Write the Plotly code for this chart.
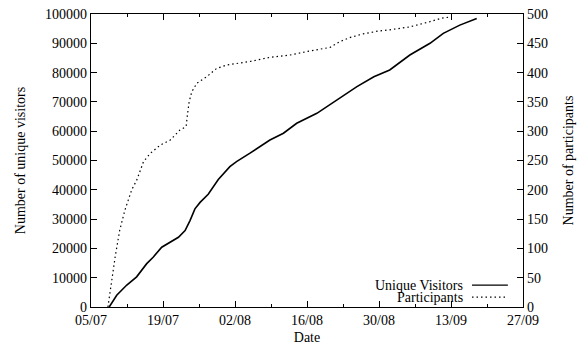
import plotly.graph_objects as go

visitor_dates = ["2010-07-08 13:00", "2010-07-10 00:00", "2010-07-11 23:00", "2010-07-13 21:00",
                 "2010-07-15 20:00", "2010-07-17 02:00", "2010-07-18 18:00", "2010-07-20 10:00",
                 "2010-07-22 00:00", "2010-07-23 07:00", "2010-07-24 06:00", "2010-07-25 05:00",
                 "2010-07-26 05:00", "2010-07-27 19:00", "2010-07-29 18:00", "2010-08-01 00:00",
                 "2010-08-02 07:00", "2010-08-04 22:00", "2010-08-08 19:00", "2010-08-11 10:00",
                 "2010-08-14 00:00", "2010-08-17 22:00", "2010-08-21 19:00", "2010-08-25 17:00",
                 "2010-08-29 00:00", "2010-09-01 02:00", "2010-09-05 00:00", "2010-09-08 22:00",
                 "2010-09-11 12:00", "2010-09-14 17:00", "2010-09-18 00:00"]
visitors = [0, 4000, 7500, 10300, 14800, 17000, 20400, 22100, 23800, 26100, 29500, 33500,
            35700, 38500, 43500, 47900, 49600, 52500, 57000, 59300, 62700, 66100, 70600,
            75200, 78600, 80900, 86000, 90000, 93400, 96200, 98500]

participant_dates = ["2010-07-08 07:00", "2010-07-09 00:00", "2010-07-09 17:00", "2010-07-10 14:00",
                     "2010-07-11 14:00", "2010-07-12 22:00", "2010-07-13 22:00", "2010-07-15 05:00",
                     "2010-07-16 12:00", "2010-07-18 10:00", "2010-07-20 10:00", "2010-07-22 07:00",
                     "2010-07-23 12:00", "2010-07-23 17:00", "2010-07-24 02:00", "2010-07-24 14:00",
                     "2010-07-25 14:00", "2010-07-27 12:00", "2010-07-29 10:00", "2010-07-31 10:00",
                     "2010-08-02 14:00", "2010-08-04 22:00", "2010-08-08 19:00", "2010-08-12 17:00",
                     "2010-08-16 14:00", "2010-08-20 12:00", "2010-08-22 10:00", "2010-08-24 10:00",
                     "2010-08-26 22:00", "2010-08-29 22:00", "2010-09-01 02:00", "2010-09-05 00:00",
                     "2010-09-08 22:00", "2010-09-11 05:00", "2010-09-13 02:00"]
participants = [0, 46, 86, 131, 165, 200, 217, 248, 262, 276, 285, 302, 308, 325, 350, 367,
                382, 393, 407, 413, 416, 419, 426, 430, 437, 443, 453, 460, 466, 471, 473,
                478, 487, 493, 495]

x_range = ["2010-07-05", "2010-09-27"]
DAY = 86400000
FONT = "Liberation Serif, Times New Roman, DejaVu Serif, serif"
FS = 14

fig = go.Figure()
fig.add_trace(go.Scatter(x=visitor_dates, y=visitors, mode="lines", name="Unique Visitors",
                         line=dict(color="black", width=1.6), yaxis="y"))
fig.add_trace(go.Scatter(x=participant_dates, y=participants, mode="lines", name="Participants",
                         line=dict(color="black", width=1.2, dash="1.5px,3px"), yaxis="y2"))

fig.update_layout(
    width=577, height=345,
    margin=dict(l=91, r=54, t=14, b=38),
    paper_bgcolor="white", plot_bgcolor="white",
    font=dict(family=FONT, size=FS, color="black"),
    showlegend=False,
    xaxis=dict(range=x_range, type="date", tick0="2010-07-05", dtick=14 * DAY,
               tickformat="%d/%m", ticks="inside", ticklen=6, tickcolor="black",
               showline=True, linecolor="black", linewidth=1.2, mirror="ticks",
               showgrid=False, zeroline=False, automargin=False,
               tickfont=dict(family=FONT, size=FS),
               minor=dict(dtick=7 * DAY, tick0="2010-07-05", ticks="inside", ticklen=3,
                          tickcolor="black", showgrid=False),
               title=dict(text="Date", standoff=6, font=dict(family=FONT, size=FS))),
    yaxis=dict(range=[0, 100000], dtick=10000, tickformat="d", ticks="inside", ticklen=6,
               tickcolor="black", showline=True, linecolor="black", linewidth=1.2,
               showgrid=False, zeroline=False, automargin=False,
               tickfont=dict(family=FONT, size=FS),
               title=dict(text="Number of unique visitors", standoff=16,
                          font=dict(family=FONT, size=FS))),
    yaxis2=dict(range=[0, 500], dtick=50, overlaying="y", side="right", ticks="inside",
                ticklen=6, tickcolor="black", showline=True, linecolor="black", linewidth=1.2,
                showgrid=False, zeroline=False, automargin=False,
                tickfont=dict(family=FONT, size=FS),
                title=dict(text="Number of participants", standoff=16,
                           font=dict(family=FONT, size=FS))),
)

# gnuplot-style key: text on the left, line sample on the right
legend_names = ["Unique Visitors", "Participants"]
legend_dash = ["solid", "1.5px,3px"]
legend_y = [0.075, 0.034]
for name, dash, yy in zip(legend_names, legend_dash, legend_y):
    fig.add_annotation(x=0.866, y=yy, xref="paper", yref="paper", text=name, showarrow=False,
                       xanchor="right", yanchor="middle", font=dict(family=FONT, size=FS))
    fig.add_shape(type="line", xref="paper", yref="paper", x0=0.882, x1=0.965, y0=yy, y1=yy,
                  line=dict(color="black", width=1.2, dash=dash))

fig.write_html("out.html")
